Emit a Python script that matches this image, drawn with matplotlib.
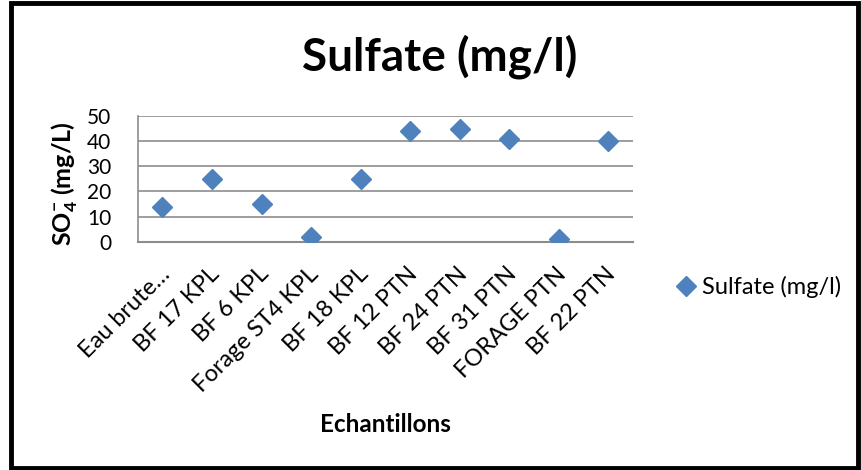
import matplotlib
matplotlib.use("Agg")
import matplotlib.pyplot as plt
from matplotlib.patches import Rectangle
import matplotlib.transforms as mtransforms

categories = ["Eau brute…", "BF 17 KPL", "BF 6 KPL", "Forage ST4 KPL", "BF 18 KPL",
              "BF 12 PTN", "BF 24 PTN", "BF 31 PTN", "FORAGE PTN", "BF 22 PTN"]
sulfate = [14, 25, 15, 2, 25, 44, 45, 41, 1, 40]
yticks = [0, 10, 20, 30, 40, 50]
series_name = "Sulfate (mg/l)"
title = "Sulfate (mg/l)"
xlabel = "Echantillons"
ylabel = r'$\mathbf{SO_4^{-}}$ (mg/L)'

plt.rcParams['font.family'] = ['Lato', 'DejaVu Sans']
plt.rcParams['mathtext.fontset'] = 'custom'
plt.rcParams['mathtext.rm'] = 'Lato'
plt.rcParams['mathtext.bf'] = 'Lato:bold'
plt.rcParams['mathtext.it'] = 'Lato:italic'

W, H = 861, 470
fig = plt.figure(figsize=(W / 100, H / 100), dpi=100)
fig.patch.set_facecolor('white')

ax = fig.add_axes([137.7 / W, 1 - 241.7 / H, (633 - 137.7) / W, (241.7 - 116) / H])
x = list(range(1, len(categories) + 1))
ax.plot(x, sulfate, linestyle='none', marker='D', markersize=10.5,
        color='#4F81BD', markeredgecolor='#4F81BD', label=series_name, zorder=3)

ax.set_xlim(0.5, len(categories) + 0.5)
ax.set_ylim(0, 50)
ax.tick_params(axis='both', length=0)
ax.tick_params(axis='y', pad=19)
ax.tick_params(axis='x', pad=8)
ax.set_yticks(yticks)
ax.set_yticklabels([str(v) for v in yticks], fontsize=15)
ax.set_xticks(x)
ax.set_xticklabels(categories, fontsize=17, rotation=45, ha='right', va='center',
                   rotation_mode='anchor')
offset = mtransforms.ScaledTranslation(4 / 100, -18 / 100, fig.dpi_scale_trans)
for lab in ax.get_xticklabels():
    lab.set_transform(lab.get_transform() + offset)

ax.grid(axis='y', color='#8c8c8c', linewidth=1.2)
ax.set_axisbelow(True)
for s in ['top', 'right']:
    ax.spines[s].set_visible(False)
ax.spines['left'].set_color('#8c8c8c')
ax.spines['bottom'].set_color('#8c8c8c')
ax.spines['left'].set_linewidth(1.2)
ax.spines['bottom'].set_linewidth(1.5)

fig.text(65 / W, 1 - 184 / H, ylabel, fontsize=18, fontweight='bold', rotation=90,
         ha='center', va='center')
fig.text(440 / W, 1 - 57 / H, title, fontsize=33, fontweight='bold', ha='center', va='center')
fig.text(385 / W, 1 - 424 / H, xlabel, fontsize=17.5, fontweight='bold', ha='center', va='center')

leg = fig.legend(loc='center left', bbox_to_anchor=(662 / W, 1 - 287 / H), frameon=False,
                 fontsize=17, handletextpad=0.1, handlelength=1.2, borderaxespad=0)

fig.patches.append(Rectangle((11 / W, 2.5 / H), (858 - 11) / W, (467.5 - 2.5) / H,
                             transform=fig.transFigure, fill=False, edgecolor='black',
                             linewidth=3.5))

fig.savefig('out.png', dpi=100)
